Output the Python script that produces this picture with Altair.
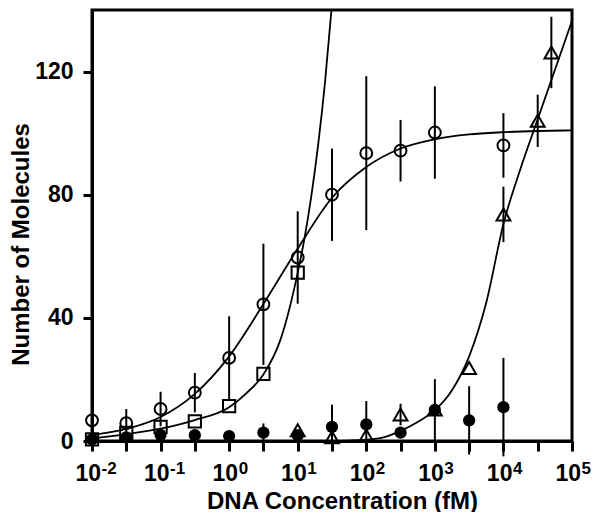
import altair as alt
import pandas as pd

FONT = "Liberation Sans"

# ---- measured points ----
# open circles
circ_x = [0.01, 0.0316, 0.1, 0.316, 1, 3.16, 10, 31.6, 100, 316, 1000, 10000]
circ_y = [6.7, 5.8, 10.4, 15.7, 27, 44.4, 59.6, 80, 93.5, 94.3, 100.2, 96]
circ_err = [0, 4.6, 5.6, 6.4, 13.5, 19.7, 15, 15, 25, 10, 15, 10.5]

# open squares
sq_x = [0.01, 0.0316, 0.1, 0.316, 1, 3.16, 10]
sq_y = [0.5, 2.6, 4.6, 6.4, 11.3, 21.8, 54.7]

# filled circles
fill_x = [0.01, 0.0316, 0.1, 0.316, 1, 3.16, 10, 31.6, 100, 316, 1000, 3162, 10000]
fill_y = [0.5, 1.2, 2.0, 1.9, 1.6, 2.7, 1.9, 4.6, 5.4, 2.7, 10.1, 6.7, 11]
fill_err = [0, 0, 0, 0, 0, 3, 0, 7.2, 7.6, 0, 10, 11.1, 16]

# open triangles
tri_x = [10, 31.6, 100, 316, 1000, 3162, 10000, 31623, 50000]
tri_y = [3.5, 1.2, 1.8, 8.6, 10.2, 23.7, 73.6, 104, 126.2]
tri_err = [0, 0, 0, 3.5, 0, 0, 9, 8.5, 11.6]

# ---- fitted curves ----
fitA_logx = [-2, -1.5, -1, -0.5, 0, 0.5, 1, 1.5, 2, 2.5, 3, 3.5, 4, 4.5, 5]
fitA_y = [1.9, 3.9, 7.8, 15.3, 27.5, 44.5, 62.5, 79, 89, 95, 98, 99.6, 100.3, 100.7, 100.9]

fitB_logx = [-2, -1.5, -1, -0.5, 0, 0.25, 0.5, 0.75, 1, 1.1, 1.2, 1.3, 1.4, 1.5]
fitB_y = [0.8, 2.2, 4.0, 6.8, 11.0, 15.5, 21.6, 33, 54.7, 66, 79.8, 96.6, 117, 142]

fitC_logx = [1.5, 1.75, 2, 2.25, 2.5, 2.75, 3, 3.25, 3.5, 3.75, 4, 4.25, 4.5, 4.75, 5]
fitC_y = [0.05, 0.15, 0.4, 1.2, 3.3, 6.2, 10, 16.5, 27.5, 45, 70.5, 88.5, 104.5, 120.5, 136.5]

# ---- axis ticks / labels ----
x_ticks = [0.01, 0.0316, 0.1, 0.316, 1, 3.16, 10, 31.6, 100, 316, 1000, 3162,
           10000, 31623, 100000]
y_ticks = [0, 40, 80, 120]
label_pos = [0.01, 0.1, 1, 10, 100, 1000, 10000, 100000]
label_exp = ["-2", "-1", "0", "1", "2", "3", "4", "5"]

W, H = 480, 431

xs = alt.Scale(type="log", domain=[0.01, 100000], nice=False)
ys = alt.Scale(domain=[0, 140], nice=False, zero=False)

xaxis = alt.Axis(values=x_ticks, labels=False, grid=False,
                 title="DNA Concentration (fM)", titleX=250, titleY=67,
                 titleAlign="center", titleBaseline="alphabetic",
                 titleFont=FONT, titleFontSize=24, titleFontWeight="bold",
                 titleColor="black", tickSize=10, tickWidth=3, tickColor="black",
                 domainColor="black", domainWidth=3)
yaxis = alt.Axis(values=y_ticks, grid=False, title="Number of Molecules",
                 titleAngle=270, titleX=-64, titleY=234, titleAlign="center",
                 titleBaseline="alphabetic", titleFont=FONT, titleFontSize=24,
                 titleFontWeight="bold", titleColor="black",
                 labelFont=FONT, labelFontSize=23, labelFontWeight="bold",
                 labelColor="black", labelPadding=10,
                 tickSize=9, tickWidth=3, tickColor="black",
                 domainColor="black", domainWidth=3)


def X(field):
    return alt.X(field, type="quantitative", scale=xs, axis=xaxis)


def Y(field):
    return alt.Y(field, type="quantitative", scale=ys, axis=yaxis)


def pts(xv, yv, ev=None):
    d = pd.DataFrame({"x": xv, "y": yv})
    if ev is not None:
        d["lo"] = [a - b for a, b in zip(yv, ev)]
        d["hi"] = [a + b for a, b in zip(yv, ev)]
        d = d[[e > 0 for e in ev]]
    return d


def curve(lx, yv):
    return pd.DataFrame({"x": [10 ** v for v in lx], "y": yv})


layers = []

# error bars
for xv, yv, ev in [(circ_x, circ_y, circ_err), (fill_x, fill_y, fill_err),
                   (tri_x, tri_y, tri_err)]:
    layers.append(
        alt.Chart(pts(xv, yv, ev)).mark_rule(color="black", strokeWidth=2)
        .encode(x=X("x"), y=Y("lo"), y2="hi")
    )

# fitted curves
for lx, yv in [(fitA_logx, fitA_y), (fitB_logx, fitB_y), (fitC_logx, fitC_y)]:
    layers.append(
        alt.Chart(curve(lx, yv)).mark_line(color="black", strokeWidth=1.8,
                                           interpolate="monotone", clip=True)
        .encode(x=X("x"), y=Y("y"))
    )

# markers
layers.append(
    alt.Chart(pts(circ_x, circ_y)).mark_point(shape="circle", filled=False, size=140,
                                              strokeWidth=2, color="black", opacity=1)
    .encode(x=X("x"), y=Y("y"))
)
layers.append(
    alt.Chart(pts(sq_x, sq_y)).mark_point(shape="square", filled=False, size=150,
                                          strokeWidth=2, color="black", opacity=1)
    .encode(x=X("x"), y=Y("y"))
)
layers.append(
    alt.Chart(pts(tri_x, tri_y)).mark_point(shape="triangle-up", filled=False, size=190,
                                            strokeWidth=2, color="black", opacity=1)
    .encode(x=X("x"), y=Y("y"))
)
layers.append(
    alt.Chart(pts(fill_x, fill_y)).mark_point(shape="circle", filled=True, size=150,
                                              color="black", opacity=1)
    .encode(x=X("x"), y=Y("y"))
)

# x tick labels 10^n
lab = pd.DataFrame({"x": label_pos, "base": ["10"] * len(label_pos), "exp": label_exp})
layers.append(
    alt.Chart(lab).mark_text(align="right", baseline="alphabetic", dx=9, font=FONT,
                             fontSize=23, fontWeight="bold", color="black")
    .encode(x=X("x"), y=alt.value(471), text="base:N")
)
layers.append(
    alt.Chart(lab).mark_text(align="left", baseline="alphabetic", dx=9.5, font=FONT,
                             fontSize=17, fontWeight="bold", color="black")
    .encode(x=X("x"), y=alt.value(464), text="exp:N")
)

chart = (
    alt.layer(*layers)
    .properties(width=W, height=H,
                autosize=alt.AutoSizeParams(type="none"),
                padding={"left": 84, "top": 2, "right": 20, "bottom": 71})
    .configure_view(stroke="black", strokeWidth=3)
)

chart.save("out.html", embed_options={"renderer": "svg", "actions": False})
